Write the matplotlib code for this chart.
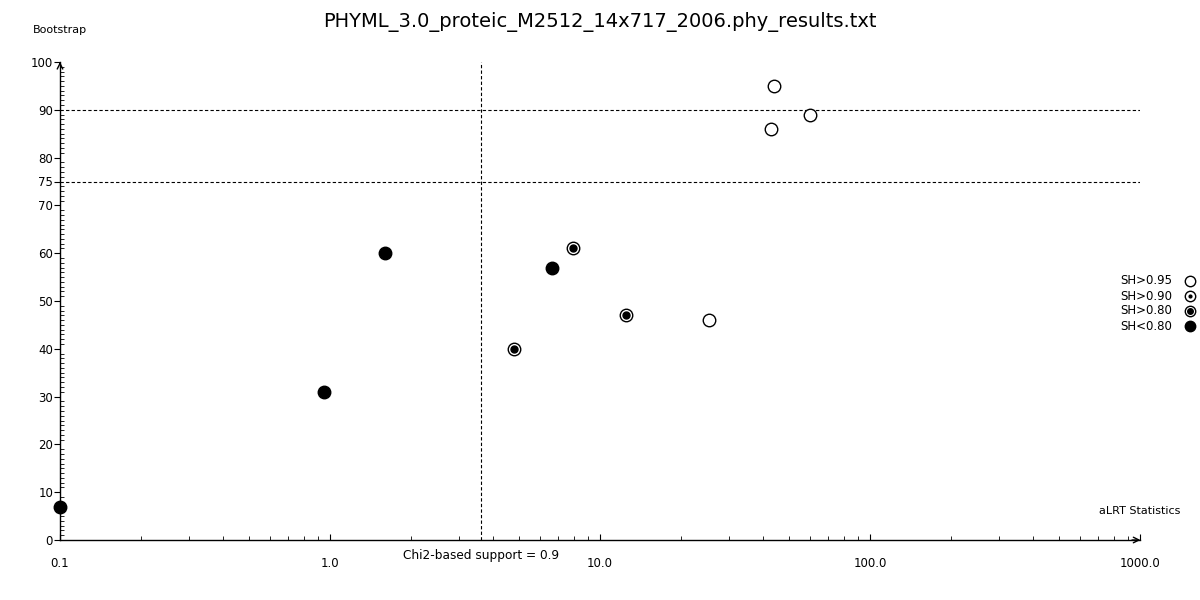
import numpy as np
import matplotlib
matplotlib.use("Agg")
import matplotlib.pyplot as plt
from matplotlib.ticker import FixedLocator, NullFormatter, LogLocator

title = "PHYML_3.0_proteic_M2512_14x717_2006.phy_results.txt"

# data: aLRT statistic (x, log scale), bootstrap (y)
open_x = [25.3, 43.0, 44.1, 60.0]          # SH>0.95
open_y = [46, 86, 95, 89]
sh90_x = []                                 # SH>0.90
sh90_y = []
sh80_x = [4.8, 7.94, 12.5]                  # SH>0.80
sh80_y = [40, 61, 47]
low_x = [0.1, 0.95, 1.6, 6.64]              # SH<0.80
low_y = [7, 31, 60, 57]

chi2_threshold = 3.625
boot_lines = [90, 75]
x_ticks = [0.1, 1.0, 10.0, 100.0, 1000.0]
x_ticklabels = ["0.1", "1.0", "10.0", "100.0", "1000.0"]
y_ticks = [0, 10, 20, 30, 40, 50, 60, 70, 75, 80, 90, 100]
legend_labels = ["SH>0.95", "SH>0.90", "SH>0.80", "SH<0.80"]

fig = plt.figure(figsize=(12, 6), dpi=100)
ax = fig.add_axes([0.05, 0.1, 0.9, 478 / 600])
ax.set_xscale("log")
ax.set_xlim(0.1, 1000)
ax.set_ylim(0, 100)
for s in ["top", "right"]:
    ax.spines[s].set_visible(False)
ax.spines["left"].set_linewidth(1)
ax.spines["bottom"].set_linewidth(1)

ax.set_xticks(x_ticks)
ax.set_xticklabels(x_ticklabels)
ax.xaxis.set_minor_locator(LogLocator(base=10, subs=np.arange(2, 10)))
ax.xaxis.set_minor_formatter(NullFormatter())
ax.set_yticks(y_ticks)
ax.yaxis.set_minor_locator(FixedLocator(np.arange(0, 101, 1)))
ax.tick_params(axis="x", which="major", direction="in", length=4, labelsize=8.5, pad=12)
ax.tick_params(axis="x", which="minor", direction="in", length=3)
ax.tick_params(axis="y", which="major", direction="out", length=4, labelsize=8.5, pad=1)
ax.tick_params(axis="y", which="minor", direction="in", length=3)

# arrows at axis ends
ax.annotate("", xy=(1.003, 0), xycoords="axes fraction", xytext=(0.99, 0),
            arrowprops=dict(arrowstyle="->", lw=1, color="black"), annotation_clip=False)
ax.annotate("", xy=(0, 1.006), xycoords="axes fraction", xytext=(0, 0.99),
            arrowprops=dict(arrowstyle="->", lw=1, color="black"), annotation_clip=False)

for yv in boot_lines:
    ax.axhline(yv, color="black", lw=0.8, ls=(0, (3, 2)))
ax.axvline(chi2_threshold, color="black", lw=0.8, ls=(0, (3, 2)))

ms = 9
ax.plot(open_x, open_y, "o", ms=ms, mfc="white", mec="black", mew=1, clip_on=False, ls="none")
ax.plot(sh90_x, sh90_y, "o", ms=ms, mfc="white", mec="black", mew=1, clip_on=False, ls="none")
ax.plot(sh90_x, sh90_y, "o", ms=2.5, mfc="black", mec="black", clip_on=False, ls="none")
ax.plot(sh80_x, sh80_y, "o", ms=ms, mfc="white", mec="black", mew=1, clip_on=False, ls="none")
ax.plot(sh80_x, sh80_y, "o", ms=5, mfc="black", mec="black", clip_on=False, ls="none")
ax.plot(low_x, low_y, "o", ms=ms, mfc="black", mec="black", clip_on=False, ls="none")

fig.text(0.5, 1 - 22 / 600, title, ha="center", va="center", fontsize=14)
fig.text(33 / 1200, 1 - 30 / 600, "Bootstrap", ha="left", va="center", fontsize=8)
fig.text(1180 / 1200, 1 - 511 / 600, "aLRT Statistics", ha="right", va="center", fontsize=8)
fig.text(403 / 1200, 1 - 555 / 600, "Chi2-based support = 0.9", ha="left", va="center", fontsize=8.7)

# legend
leg_y = [281, 296, 311, 326]
for lab, yy in zip(legend_labels, leg_y):
    fig.text(1172 / 1200, 1 - yy / 600, lab, ha="right", va="center", fontsize=8.5)
lx = [1190 / 1200] * 4
ly = [1 - yy / 600 for yy in leg_y]
lms = 7.5
fig.add_artist(plt.Line2D([lx[0]], [ly[0]], transform=fig.transFigure, marker="o", ms=lms,
                          mfc="white", mec="black", ls="none"))
fig.add_artist(plt.Line2D([lx[1]], [ly[1]], transform=fig.transFigure, marker="o", ms=lms,
                          mfc="white", mec="black", ls="none"))
fig.add_artist(plt.Line2D([lx[1]], [ly[1]], transform=fig.transFigure, marker="o", ms=2,
                          mfc="black", mec="black", ls="none"))
fig.add_artist(plt.Line2D([lx[2]], [ly[2]], transform=fig.transFigure, marker="o", ms=lms,
                          mfc="white", mec="black", ls="none"))
fig.add_artist(plt.Line2D([lx[2]], [ly[2]], transform=fig.transFigure, marker="o", ms=4,
                          mfc="black", mec="black", ls="none"))
fig.add_artist(plt.Line2D([lx[3]], [ly[3]], transform=fig.transFigure, marker="o", ms=lms,
                          mfc="black", mec="black", ls="none"))

fig.savefig("out.png", dpi=100, facecolor="white")
